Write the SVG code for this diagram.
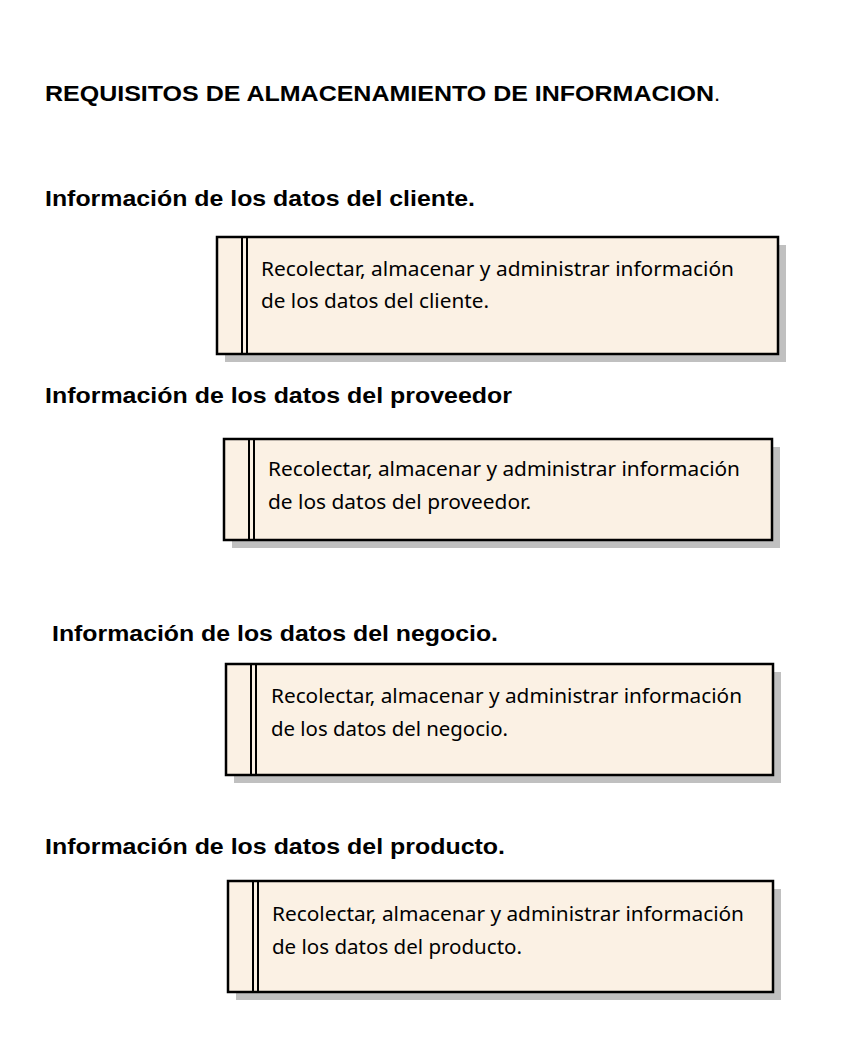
<svg xmlns="http://www.w3.org/2000/svg" width="856" height="1042" viewBox="0 0 856 1042">
<style>
.h{font-family:"Liberation Sans",Arial,sans-serif;font-weight:bold;font-size:22.5px;fill:#000}
.t{font-family:"Noto Sans","Open Sans",sans-serif;font-size:19.5px;fill:#000}
.box{fill:#FBF1E4;stroke:#000;stroke-width:2.5}
.sh{fill:#C0C0C0}
.bar{stroke:#000;stroke-width:2;fill:none}
</style>
<rect width="856" height="1042" fill="#fff"/>
<g id="title">
<text class="h" x="45" y="101" textLength="669" lengthAdjust="spacingAndGlyphs">REQUISITOS DE ALMACENAMIENTO DE INFORMACION</text>
<text x="714" y="101" style="font-family:'Liberation Sans',Arial,sans-serif;font-size:22px">.</text>
</g>
<g id="h1"><text class="h" x="45" y="206" textLength="430" lengthAdjust="spacingAndGlyphs">Información de los datos del cliente.</text></g>
<g id="h2"><text class="h" x="45" y="403" textLength="467" lengthAdjust="spacingAndGlyphs">Información de los datos del proveedor</text></g>
<g id="h3"><text class="h" x="52" y="641" textLength="446" lengthAdjust="spacingAndGlyphs">Información de los datos del negocio.</text></g>
<g id="h4"><text class="h" x="45" y="854" textLength="460" lengthAdjust="spacingAndGlyphs">Información de los datos del producto.</text></g>

<g id="node1">
<rect class="sh" x="225" y="245" width="561" height="117"/>
<rect class="box" x="217" y="237" width="561" height="117"/>
<line class="bar" x1="242" y1="237" x2="242" y2="354"/>
<line class="bar" x1="247" y1="237" x2="247" y2="354"/>
<text class="t" x="261" y="276" textLength="473" lengthAdjust="spacingAndGlyphs">Recolectar, almacenar y administrar información</text>
<text class="t" x="261" y="308" textLength="228" lengthAdjust="spacingAndGlyphs">de los datos del cliente.</text>
</g>
<g id="node2">
<rect class="sh" x="232" y="447" width="548" height="101"/>
<rect class="box" x="224" y="439" width="548" height="101"/>
<line class="bar" x1="249" y1="439" x2="249" y2="540"/>
<line class="bar" x1="254" y1="439" x2="254" y2="540"/>
<text class="t" x="268" y="476" textLength="472" lengthAdjust="spacingAndGlyphs">Recolectar, almacenar y administrar información</text>
<text class="t" x="268" y="509" textLength="263" lengthAdjust="spacingAndGlyphs">de los datos del proveedor.</text>
</g>
<g id="node3">
<rect class="sh" x="234" y="672" width="547" height="111"/>
<rect class="box" x="226" y="664" width="547" height="111"/>
<line class="bar" x1="251" y1="664" x2="251" y2="775"/>
<line class="bar" x1="256" y1="664" x2="256" y2="775"/>
<text class="t" x="271" y="703" textLength="471" lengthAdjust="spacingAndGlyphs">Recolectar, almacenar y administrar información</text>
<text class="t" x="271" y="736" textLength="237" lengthAdjust="spacingAndGlyphs">de los datos del negocio.</text>
</g>
<g id="node4">
<rect class="sh" x="236" y="889" width="545" height="111"/>
<rect class="box" x="228" y="881" width="545" height="111"/>
<line class="bar" x1="253" y1="881" x2="253" y2="992"/>
<line class="bar" x1="258" y1="881" x2="258" y2="992"/>
<text class="t" x="272" y="921" textLength="472" lengthAdjust="spacingAndGlyphs">Recolectar, almacenar y administrar información</text>
<text class="t" x="272" y="954" textLength="250" lengthAdjust="spacingAndGlyphs">de los datos del producto.</text>
</g>
<g id="connectors"/>
</svg>
